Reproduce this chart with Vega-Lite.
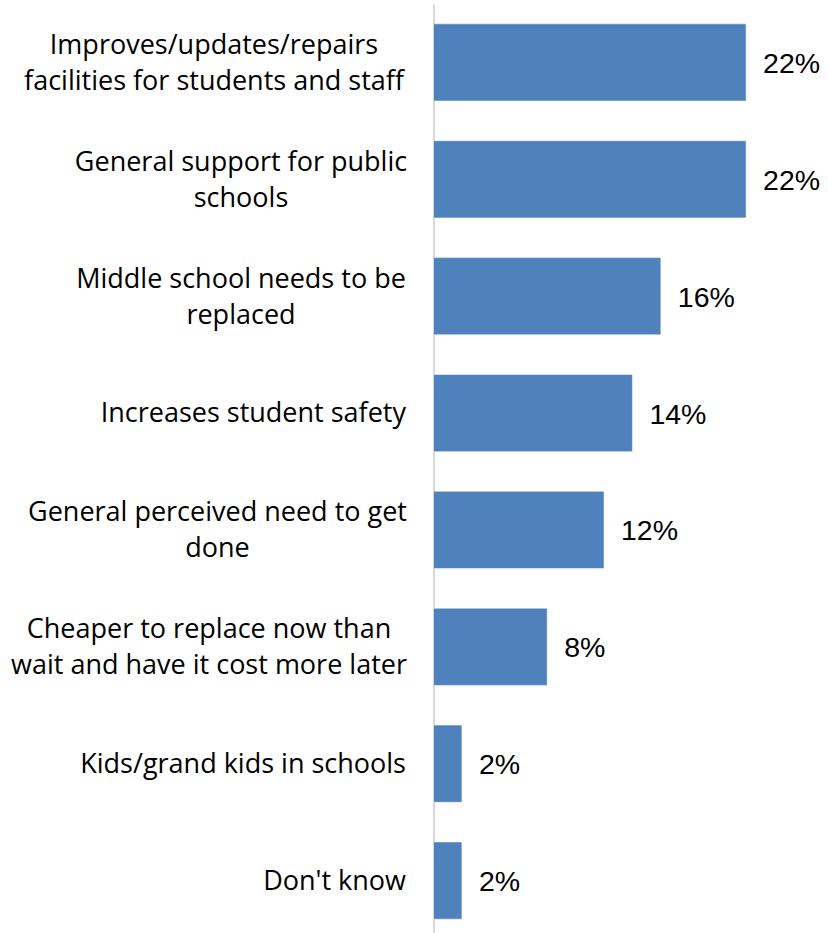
{
  "$schema": "https://vega.github.io/schema/vega-lite/v6.json",
  "width": 395,
  "height": 935,
  "autosize": "none",
  "padding": {"left": 433.5, "top": 4, "right": 0, "bottom": 0},
  "background": "#FFFFFF",
  "config": {"view": {"stroke": null}},
  "data": {
    "values": [
      {"reason": "Improves/updates/repairs|facilities for students and staff", "share": 0.22},
      {"reason": "General support for public|schools", "share": 0.22},
      {"reason": "Middle school needs to be|replaced", "share": 0.16},
      {"reason": "Increases student safety", "share": 0.14},
      {"reason": "General perceived need to get|done", "share": 0.12},
      {"reason": "Cheaper to replace now than|wait and have it cost more later", "share": 0.08},
      {"reason": "Kids/grand kids in schools", "share": 0.02},
      {"reason": "Don't know", "share": 0.02}
    ]
  },
  "encoding": {
    "y": {
      "field": "reason",
      "type": "nominal",
      "sort": null,
      "scale": {"paddingInner": 0.34, "paddingOuter": 0.17},
      "axis": {
        "title": null,
        "ticks": false,
        "labelExpr": "split(datum.value, '|')",
        "labelFont": "Open Sans",
        "labelFontSize": 27,
        "labelColor": "#000000",
        "labelLineHeight": 36,
        "labelPadding": {
          "condition": [
            {"test": "indexof(datum.value, 'Improves') === 0", "value": 220},
            {"test": "indexof(datum.value, 'General support') === 0", "value": 193},
            {"test": "indexof(datum.value, 'Middle school') === 0", "value": 193},
            {"test": "indexof(datum.value, 'General perceived') === 0", "value": 216.5},
            {"test": "indexof(datum.value, 'Cheaper') === 0", "value": 225}
          ],
          "value": 28
        },
        "labelAlign": {
          "condition": {"test": "indexof(datum.value, '|') >= 0", "value": "center"},
          "value": "right"
        },
        "labelOffset": {
          "condition": {"test": "indexof(datum.value, '|') >= 0", "value": -16.5},
          "value": 1
        },
        "labelBaseline": "middle",
        "labelLimit": 440,
        "domainColor": "#D9D9D9",
        "domainWidth": 2
      }
    },
    "x": {
      "field": "share",
      "type": "quantitative",
      "scale": {"domain": [0, 0.278], "nice": false},
      "axis": null
    }
  },
  "layer": [
    {
      "mark": {"type": "bar", "color": "#4F81BD", "stroke": "#FFFFFF", "strokeWidth": 0.5}
    },
    {
      "mark": {"type": "text", "align": "left", "baseline": "middle", "dx": 17, "dy": 1.5, "font": "Liberation Sans", "fontSize": 28.5, "color": "#000000"},
      "encoding": {"text": {"field": "share", "type": "quantitative", "format": ".0%"}}
    }
  ]
}
